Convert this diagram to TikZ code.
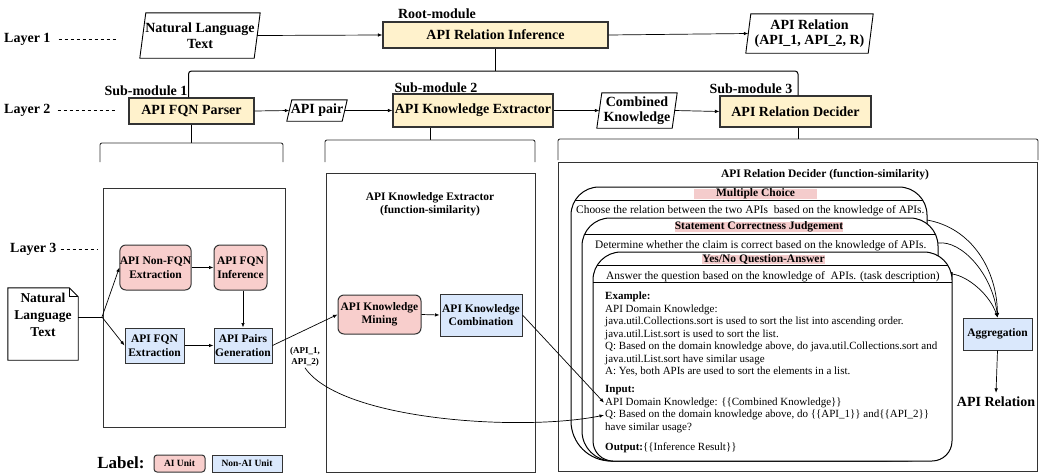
\documentclass[tikz,border=0pt]{standalone}
\usepackage{fontspec}
\setmainfont{Liberation Serif}
\usetikzlibrary{arrows.meta,calc}
\definecolor{yfill}{HTML}{FFF2CC}
\definecolor{pfill}{HTML}{F8CECC}
\definecolor{bfill}{HTML}{DAE8FC}
\definecolor{hlpink}{HTML}{F4CCCC}
\definecolor{edgegray}{HTML}{333333}
\newcommand\parabox[2]{\draw[paraline] ([xshift=#2]#1.north west) -- (#1.north east) -- ([xshift=-#2]#1.south east) -- (#1.south west) -- cycle;}
\begin{document}
\begin{tikzpicture}[x=1pt,y=-1pt,
  lab/.style={font=\fontsize{14}{15.5}\selectfont\bfseries, inner sep=0pt},
  dashline/.style={line width=0.7pt, dash pattern=on 3.5pt off 2.5pt},
  paraline/.style={draw=black, line width=0.9pt},
  ybox/.style={draw=edgegray, line width=1.1pt, fill=yfill, font=\fontsize{14}{15.5}\selectfont\bfseries, inner sep=0pt},
  aibox/.style={draw=edgegray, line width=1pt, fill=pfill, rounded corners=6pt, align=center, font=\fontsize{11.5}{13.5}\selectfont\bfseries, inner sep=0pt},
  nonai/.style={draw=edgegray, line width=1pt, fill=bfill, align=center, font=\fontsize{11.5}{13.5}\selectfont\bfseries, inner sep=0pt},
  conn/.style={line width=0.7pt, draw=black},
  arr/.style={conn, -{Latex[length=4.5pt,width=3.5pt]}},
  panel/.style={draw=edgegray, line width=0.9pt},
  brace/.style={draw=edgegray, line width=0.9pt, rounded corners=2pt},
  card/.style={draw=black, line width=1pt, fill=white},
  desc/.style={font=\fontsize{11.4}{12.5}\selectfont, anchor=base west, inner xsep=1pt, inner ysep=0pt},
  body/.style={font=\fontsize{11}{12.5}\selectfont, anchor=base west, inner xsep=1pt, inner ysep=0pt},
  bodyb/.style={body, font=\fontsize{11}{12.5}\selectfont\bfseries},
  hl/.style={fill=hlpink, inner sep=0pt, font=\fontsize{11.5}{12}\selectfont\bfseries},
  sep/.style={draw=black, line width=0.8pt},
]
\useasboundingbox (0,0) rectangle (1041,474);

% ---------- layer labels ----------
\node[lab, anchor=west] (lay1) at (4,39) {Layer 1};
\coordinate (lay1e) at (117,39);
\draw[dashline] ([xshift=8pt]lay1.east) -- (lay1e);
\node[lab, anchor=west] (lay2) at (4,110) {Layer 2};
\coordinate (lay2e) at (115,110);
\draw[dashline] ([xshift=7pt]lay2.east) -- (lay2e);
\node[lab, anchor=west] (lay3) at (10,249) {Layer 3};
\coordinate (lay3e) at (97,249);
\draw[dashline] ([xshift=4pt]lay3.east) -- (lay3e);

% ---------- layer 1 ----------
\node[lab, align=center, minimum width=120, minimum height=45] (nlt) at (200,35.5) {Natural Language\\Text};
\parabox{nlt}{6pt}
\node[lab] (rootlab) at (437,14) {Root-module};
\node[ybox, minimum width=225, minimum height=26] (root) at (495.5,35) {API Relation Inference};
\node[lab, align=center, minimum width=127, minimum height=39] (rel) at (809.5,33.5) {API Relation\\(API\_1, API\_2, R)};
\parabox{rel}{5pt}
\draw[arr] ([xshift=-3pt]nlt.east) -- (root.west);
\draw[arr] (root.east) -- ([xshift=2.5pt]rel.west);

% ---------- layer 2 ----------
\node[lab] (sm1) at (146,91) {Sub-module 1};
\node[ybox, minimum width=125, minimum height=26] (fqn) at (191.5,111) {API FQN Parser};
\node[lab, minimum width=60, minimum height=21] (pair) at (317,110.5) {API pair};
\parabox{pair}{5pt}
\node[lab] (sm2) at (436,88) {Sub-module 2};
\node[ybox, minimum width=160, minimum height=33] (ext) at (473,110.5) {API Knowledge Extractor};
\node[lab, align=center, minimum width=80, minimum height=35] (comb) at (637,110.5) {Combined\\Knowledge};
\parabox{comb}{5pt}
\node[lab] (sm3) at (751,89) {Sub-module 3};
\node[ybox, minimum width=151, minimum height=31] (dec) at (795.5,111.5) {API Relation Decider};

\draw[arr] (fqn.east) -- ([xshift=2.5pt]pair.west);
\draw[arr] ([xshift=-2.5pt]pair.east) -- (ext.west);
\draw[arr] (ext.east) -- ([xshift=2.5pt]comb.west);
\draw[arr] ([xshift=-2.5pt]comb.east) -- (dec.west);

% tree
\coordinate (tj) at (495.5,71);
\draw[conn, line width=1pt] (root.south) -- (tj);
\draw[conn, line width=1pt, rounded corners=3pt] ([xshift=-3pt]fqn.north) -- ([xshift=-3pt]fqn.north |- tj) -- ([xshift=2.5pt]dec.north |- tj) -- ([xshift=2.5pt]dec.north);

% brackets
\coordinate (b1) at (191.5,143);
\draw[conn, line width=1.2pt] (fqn.south) -- (b1);
\draw[brace] (100,162) -- (100,143) -- (283,143) -- (283,162);
\coordinate (b2) at (430,140);
\draw[conn, line width=1pt] (b2 |- ext.south) -- (b2);
\draw[brace] (325,162) -- (325,140) -- (535,140) -- (535,162);
\coordinate (b3) at (798,139);
\draw[conn, line width=1pt] (b3 |- dec.south) -- (b3);
\draw[brace] (558,160) -- (558,139) -- (1038,139) -- (1038,160);

% panels
\draw[panel] (103,188) rectangle (285,427);
\draw[panel] (326,173) rectangle (535,472);
\draw[panel] (558,162) rectangle (1037,471);

% ---------- left panel ----------
\node[aibox, minimum width=69, minimum height=45] (nonfqn) at (155.5,267.5) {API Non-FQN\\Extraction};
\node[aibox, minimum width=53, minimum height=45] (fqninf) at (240.5,267.5) {API FQN\\Inference};
\node[nonai, minimum width=59, minimum height=35] (fqnext) at (154.5,345.5) {API FQN\\Extraction};
\node[nonai, minimum width=58, minimum height=35] (pairs) at (243,345.5) {API Pairs\\Generation};

\node[minimum width=70, minimum height=72, inner sep=0pt] (doc) at (43,324) {};
\draw[paraline] (doc.north west) -- ([xshift=-9pt]doc.north east) -- ([yshift=-9pt]doc.north east) -- (doc.south east) -- (doc.south west) -- cycle;
\draw[paraline] ([xshift=-9pt]doc.north east) -- ([xshift=-9pt,yshift=-9pt]doc.north east) -- ([yshift=-9pt]doc.north east);
\node[font=\fontsize{13.5}{17}\selectfont\bfseries, align=center, inner sep=0pt] (doctext) at (43,315) {Natural\\Language\\Text};

\coordinate (br) at (102,317);
\draw[conn] (doc.east |- br) -- (br);
\draw[arr] (br) -- (nonfqn.west);
\draw[arr] (br) -- (fqnext.west);
\draw[arr] (nonfqn.east) -- (fqninf.west);
\draw[arr] (fqninf.south -| pairs.north) -- (pairs.north);
\draw[arr] (fqnext.east) -- (pairs.west);

% legend
\node[font=\fontsize{17}{19}\selectfont\bfseries, inner sep=0pt] (labl) at (121,463) {Label:};
\node[aibox, rounded corners=3pt, minimum width=51, minimum height=17, font=\fontsize{9.5}{10}\selectfont\bfseries] (ailab) at (179.5,463.5) {AI Unit};
\node[nonai, minimum width=70, minimum height=17, font=\fontsize{9.5}{10}\selectfont\bfseries] (nonailab) at (247,463.5) {Non-AI Unit};

% ---------- middle panel ----------
\node[font=\fontsize{11.5}{12.5}\selectfont\bfseries, align=center, inner sep=0pt] (p2t) at (430,204) {API Knowledge Extractor\\(function-similarity)};
\node[aibox, minimum width=83, minimum height=39] (mining) at (379.5,314.5) {API Knowledge\\Mining};
\node[nonai, minimum width=82, minimum height=42] (combo) at (481,315) {API Knowledge\\Combination};
\draw[arr] (mining.east) -- (combo.west);
\draw[arr] (pairs.east) -- (mining.west);
\node[font=\fontsize{9}{11}\selectfont\bfseries, align=center, inner sep=0pt] (apil) at (305,357) {(API\_1,\\API\_2)};

% ---------- right panel ----------
\node[font=\fontsize{11.5}{12}\selectfont\bfseries, inner sep=0pt] (p3t) at (825,175) {API Relation Decider (function-similarity)};

% card 1
\draw[card] (571,300) [rounded corners=28pt] -- (571,187) -- (927,187) -- (927,300) [rounded corners=40pt] -- (927,461) -- (571,461) -- cycle;
\node[hl, minimum width=123, minimum height=9.5] (mc) at (755.5,194) {Multiple Choice};
\draw[sep] (575.4,200) -- (922.6,200);
\node[desc] (d1) at (575,213.8) {Choose the relation between the two APIs~ based on the knowledge of APIs.};
% card 2
\draw[card] (582,300) [rounded corners=28pt] -- (582,218) -- (938,218) -- (938,300) [rounded corners=30pt] -- (938,461) -- (582,461) -- cycle;
\node[hl, minimum width=162, minimum height=9.5] (scj) at (759,227) {Statement Correctness Judgement};
\draw[sep] (584.7,234) -- (935.3,234);
\node[desc] (d2) at (594,248.8) {Determine whether the claim is correct based on the knowledge of APIs.};
% card 3
\draw[card] (593,300) [rounded corners=28pt] -- (593,252) -- (952,252) -- (952,300) [rounded corners=20pt] -- (952,461) -- (593,461) -- cycle;
\node[hl, minimum width=121, minimum height=9.5] (yn) at (763.5,259.5) {Yes/No Question-Answer};
\draw[sep] (597.4,265) -- (947.6,265);
\node[desc] (d3) at (605,279.8) {Answer the question based on the knowledge of~ APIs. (task description)};
\draw[sep] (593,282) -- (952,282);

\node[bodyb] (ex) at (604,299.3) {Example:};
\node[body] (ex1) at (604,312.3) {API Domain Knowledge:};
\node[body] (ex2) at (604,324.8) {java.util.Collections.sort is used to sort the list into ascending order.};
\node[body] (ex3) at (604,337.3) {java.util.List.sort is used to sort the list.};
\node[body] (ex4) at (604,349.8) {Q: Based on the domain knowledge above, do java.util.Collections.sort and};
\node[body] (ex5) at (604,362.3) {java.util.List.sort have similar usage};
\node[body] (ex6) at (604,374.8) {A: Yes, both APIs are used to sort the elements in a list.};
\node[bodyb] (inp) at (604,392.8) {Input:};
\node[body] (inadk) at (604,405.3) {API Domain Knowledge: \{\{Combined Knowledge\}\}};
\node[body] (inq) at (604,417.8) {Q: Based on the domain knowledge above, do \{\{API\_1\}\} and\{\{API\_2\}\}};
\node[body] (inq2) at (604,430.3) {have similar usage?};
\node[body] (outp) at (604,450.3) {\textbf{Output:}\{\{Inference Result\}\}};

\draw[arr] (combo.east) -- (inadk.west);
\draw[arr] ([yshift=-1pt]apil.south) .. controls (340,420) and (520,432) .. (inq.west);

% aggregation
\node[nonai, minimum width=69, minimum height=32] (agg) at (997.5,334) {Aggregation};
\node[lab] (relout) at (996,402) {API Relation};
\draw[arr] (agg.south) -- ([yshift=4pt]relout.north);
\coordinate (c1r) at (927,220);
\coordinate (c2r) at (938,243);
\coordinate (c3r) at (952,274);
\draw[arr] (c1r) .. controls (972,228) and (997,270) .. (agg.north);
\draw[arr] (c2r) .. controls (962,240) and (993,275) .. (agg.north);
\draw[arr] (c3r) .. controls (968,276) and (990,295) .. (agg.north);
\end{tikzpicture}
\end{document}
